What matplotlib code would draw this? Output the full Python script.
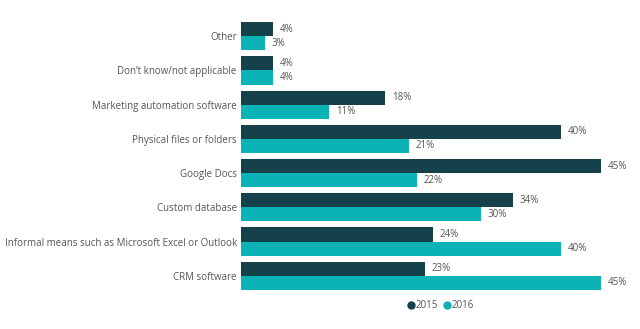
import matplotlib
matplotlib.use('Agg')
import matplotlib.pyplot as plt
import numpy as np
from matplotlib.lines import Line2D

plt.rcParams['font.family'] = ['Open Sans', 'DejaVu Sans']

categories = ['Other', 'Don\u2019t know/not applicable', 'Marketing automation software',
              'Physical files or folders', 'Google Docs', 'Custom database',
              'Informal means such as Microsoft Excel or Outlook', 'CRM software']
v2015 = [4, 4, 18, 40, 45, 34, 24, 23]
v2016 = [3, 4, 11, 21, 22, 30, 40, 45]
years = ['2015', '2016']
colors = ['#15414b', '#0bb2b6']
txt = '#555555'

fig = plt.figure(figsize=(6.4, 3.29), dpi=100)
ax = fig.add_axes([241/640, 1 - 290/329, 1 - 241/640, 268/329])

y = np.arange(len(categories))
h = 0.41
b1 = ax.barh(y - h/2, v2015, height=h, color=colors[0])
b2 = ax.barh(y + h/2, v2016, height=h, color=colors[1])

for bars, vals in ((b1, v2015), (b2, v2016)):
    for bar, v in zip(bars, vals):
        ax.annotate(f'{v}%', (bar.get_width(), bar.get_y() + bar.get_height()/2),
                    xytext=(5, 0), textcoords='offset points', va='center', ha='left',
                    fontsize=7.0, color=txt)

ax.set_xlim(0, (640 - 241) / 8)
ax.set_ylim(len(categories) - 1 + 0.418, -0.418)
ax.set_yticks(y)
ax.set_yticklabels(categories, fontsize=7.0, color=txt)
ax.tick_params(axis='y', length=0, pad=3)
ax.set_xticks([])
for s in ax.spines.values():
    s.set_visible(False)

handles = [Line2D([], [], marker='o', ls='', color=c, markersize=5) for c in colors]
fig.legend(handles, years, loc='center', bbox_to_anchor=(440/640, 1 - 306/329), ncol=2,
           frameon=False, fontsize=7.0, labelcolor=txt, handletextpad=0.0,
           columnspacing=0.4, handlelength=1.0)

fig.savefig('out.png', dpi=100)
